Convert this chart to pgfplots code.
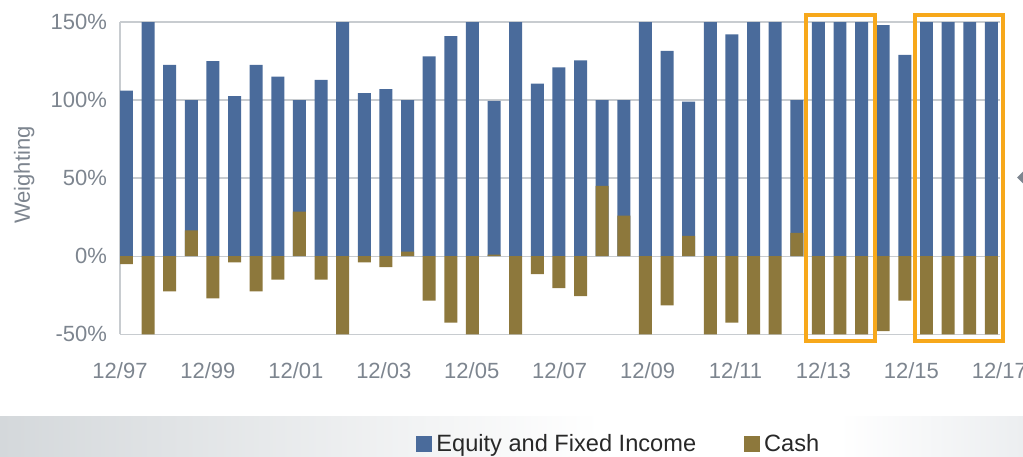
\documentclass[border=0pt]{standalone}
\usepackage{fontspec}
\setmainfont{Liberation Sans}
\usepackage{pgfplots}
\usepackage{pgfplotstable}
\pgfplotsset{compat=1.18}
\definecolor{eqblue}{RGB}{74,107,155}
\definecolor{cashgold}{RGB}{141,120,60}
\definecolor{boxorange}{RGB}{247,168,27}
\definecolor{ticktext}{RGB}{125,133,143}
\definecolor{gridgray}{RGB}{200,204,208}
\definecolor{bandL}{RGB}{212,216,219}
\definecolor{bandR}{RGB}{236,238,240}
\definecolor{legtext}{RGB}{40,40,40}

\pgfplotstableread{
x eq cash
0 106 -5
1 150 -50
2 122.5 -22.5
3 100 16.5
4 125 -27
5 102.5 -4
6 122.5 -22.5
7 115 -15
8 100 28.5
9 113 -15
10 150 -50
11 104.5 -4
12 107 -7
13 100 3
14 128 -28.5
15 141 -42.5
16 150 -50
17 99.5 1
18 150 -50
19 110.5 -11.5
20 121 -20.5
21 125.5 -25.5
22 100 45
23 100 26
24 150 -50
25 131.5 -31.5
26 99 13
27 150 -50
28 142 -42.5
29 150 -50
30 150 -50
31 100 15
32 150 -50
33 150 -50
34 150 -50
35 148 -48
36 129 -28.5
37 150 -50
38 150 -50
39 150 -50
40 150 -50
}\data

\begin{document}
\begin{tikzpicture}
\useasboundingbox (0pt,0pt) rectangle (511.5pt,228pt);
\shade[left color=bandL,right color=white] (0pt,0pt) rectangle (300pt,19.65pt);
\fill[white] (299.5pt,0pt) rectangle (420pt,19.65pt);
\shade[left color=white,right color=bandR] (419.5pt,0pt) rectangle (511.5pt,19.65pt);
\begin{axis}[
  at={(60pt,60.85pt)}, anchor=south west,
  scale only axis, width=440pt, height=156.15pt,
  xmin=-0.3, xmax=40.4, ymin=-50, ymax=150,
  ybar, bar width=0.6,
  axis y line*=left, axis x line*=bottom,
  axis line style={gridgray, line width=0.7pt, -},
  ymajorgrids, grid style={gridgray, line width=0.7pt},
  ytick={-50,0,50,100,150},
  yticklabels={-50\%,0\%,50\%,100\%,150\%},
  xtick={-0.3,3.767,7.833,11.9,15.967,20.033,24.1,28.167,32.233,36.3,40.367},
  xticklabels={12/97,12/99,12/01,12/03,12/05,12/07,12/09,12/11,12/13,12/15,12/17},
  major tick length=0pt,
  tick label style={font=\fontsize{11}{13}\selectfont, text=ticktext},
  xticklabel style={yshift=-10.5pt},
  yticklabel style={xshift=-3pt},
  ylabel={Weighting},
  ylabel style={font=\fontsize{11}{13}\selectfont, text=ticktext, at={(axis description cs:-0.109,0.51)}, anchor=center},
  clip=false,
  legend columns=2,
  legend cell align=left,
  legend image code/.code={\fill[#1] (0pt,-4pt) rectangle (8pt,4pt);},
  legend style={draw=none, fill=none, inner sep=0pt,
    at={(axis description cs:0.3364,-0.352)}, anchor=west,
    font=\fontsize{11.8}{13}\selectfont, text=legtext,
    /tikz/every even column/.append style={column sep=22pt}},
]
\addplot[fill=eqblue, draw=none, bar shift=0pt] table[x=x,y=eq]{\data};
\addlegendentry{Equity and Fixed Income}
\addplot[fill=cashgold, draw=none, bar shift=0pt] table[x=x,y=cash]{\data};
\addlegendentry{Cash}
\draw[boxorange, line width=2pt] (axis cs:31.41,154.8) rectangle (axis cs:34.64,-54.6);
\draw[boxorange, line width=2pt] (axis cs:36.45,154.8) rectangle (axis cs:40.56,-54.6);
\end{axis}
\fill[ticktext] (508.5pt,139.25pt) -- (512pt,142.75pt) -- (512pt,135.75pt) -- cycle;
\end{tikzpicture}
\end{document}
